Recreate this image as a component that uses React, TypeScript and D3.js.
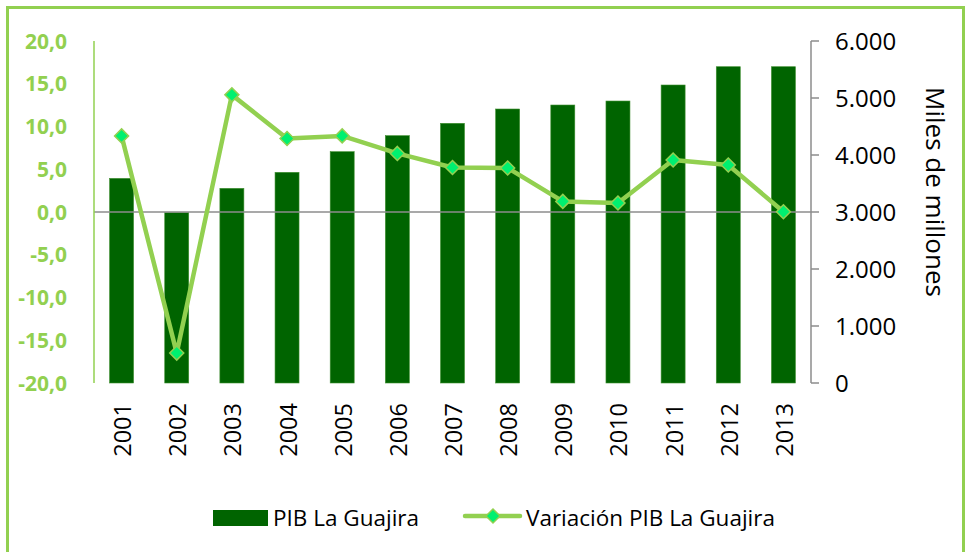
import React from "react";
import * as d3 from "d3";

const years = ["2001","2002","2003","2004","2005","2006","2007","2008","2009","2010","2011","2012","2013"];
const pib = [3590, 2990, 3415, 3696, 4058, 4339, 4556, 4807, 4877, 4947, 5228, 5549, 5549];
const variacion = [8.9, -16.5, 13.7, 8.6, 8.9, 6.85, 5.2, 5.15, 1.24, 1.05, 6.08, 5.5, 0.03];
const leftTicks = [-20, -15, -10, -5, 0, 5, 10, 15, 20];
const rightTicks = [0, 1000, 2000, 3000, 4000, 5000, 6000];
const seriesNames = ["PIB La Guajira", "Variación PIB La Guajira"];
const rightTitle = "Miles de millones";

const W = 966, H = 552;
const FONT = "'Open Sans', 'Noto Sans', sans-serif";
const LIGHT = "#92D050";
const DARK = "#006400";
const MARK = "#00F070";

const locale = d3.formatLocale({ decimal: ",", thousands: ".", grouping: [3], currency: ["", ""], minus: "-" });
const fmtL = locale.format(".1f");
const fmtR = locale.format(",");

export default function App() {
  const left = 94, right = 811, top = 41, bottom = 383;
  const x = d3.scaleBand<string>().domain(years).range([left, right]).paddingInner(0.565).paddingOuter(0.2825);
  const yL = d3.scaleLinear().domain([-20, 20]).range([bottom, top]);
  const yR = d3.scaleLinear().domain([0, 6000]).range([bottom, top]);
  const cx = (y: string) => (x(y) as number) + x.bandwidth() / 2;
  const line = d3.line<number>().x((_, i) => cx(years[i])).y((d) => yL(d));
  const diamond = (px: number, py: number, r: number) =>
    `M${px},${py - r}L${px + r},${py}L${px},${py + r}L${px - r},${py}Z`;

  return (
    <div style={{ position: "fixed", left: 0, top: 0 }}>
      <svg width={W} height={H} style={{ display: "block", fontFamily: FONT }}>
        <rect x={0} y={0} width={W} height={H} fill="#fff" />
        <rect x={7.5} y={7.5} width={956} height={600} fill="none" stroke={LIGHT} strokeWidth={3} />

        {/* bars */}
        {pib.map((v, i) => (
          <rect key={years[i]} x={x(years[i])} y={yR(v)} width={x.bandwidth()} height={yR(0) - yR(v)}
            fill={DARK} stroke="#3f8f30" strokeWidth={0.6} />
        ))}

        {/* zero line */}
        <line x1={left} x2={right} y1={yL(0)} y2={yL(0)} stroke="#8c8c8c" strokeWidth={1.5} />

        {/* left axis */}
        <line x1={left} x2={left} y1={top} y2={bottom} stroke={LIGHT} strokeWidth={1.5} />
        {leftTicks.map((t) => (
          <text key={t} x={67} y={yL(t)} dy="0.36em" textAnchor="end" fill={LIGHT}
            fontWeight="bold" fontSize={21}>{fmtL(t)}</text>
        ))}

        {/* right axis */}
        <line x1={right} x2={right} y1={top} y2={bottom} stroke="#8c8c8c" strokeWidth={1.5} />
        {rightTicks.map((t) => (
          <g key={t}>
            <line x1={right} x2={right + 8} y1={yR(t)} y2={yR(t)} stroke="#8c8c8c" strokeWidth={1.5} />
            <text x={835} y={yR(t)} dy="0.36em" fill="#000" fontSize={24}>{fmtR(t)}</text>
          </g>
        ))}
        <text transform={`translate(935,192) rotate(90)`} textAnchor="middle" dy="0.36em" fontSize={26} fill="#000">
          {rightTitle}
        </text>

        {/* x labels */}
        {years.map((y) => (
          <text key={y} transform={`translate(${cx(y) + 1},403) rotate(-90)`} textAnchor="end" dy="0.36em"
            fontSize={23.5} fill="#000">{y}</text>
        ))}

        {/* line series */}
        <path d={line(variacion) as string} fill="none" stroke={LIGHT} strokeWidth={4.5} strokeLinejoin="round" />
        {variacion.map((v, i) => (
          <path key={years[i]} d={diamond(cx(years[i]), yL(v), 7)} fill={MARK} stroke={LIGHT} strokeWidth={1.5} />
        ))}

        {/* legend */}
        <rect x={213} y={510} width={55} height={16} fill={DARK} />
        <text x={273} y={526} fontSize={22.5} fill="#000">{seriesNames[0]}</text>
        <line x1={465} x2={520} y1={516} y2={516} stroke={LIGHT} strokeWidth={4.5} strokeLinecap="round" />
        <path d={diamond(493, 516, 7)} fill={MARK} stroke={LIGHT} strokeWidth={1.5} />
        <text x={526} y={526} fontSize={22.5} fill="#000">{seriesNames[1]}</text>
      </svg>
    </div>
  );
}
